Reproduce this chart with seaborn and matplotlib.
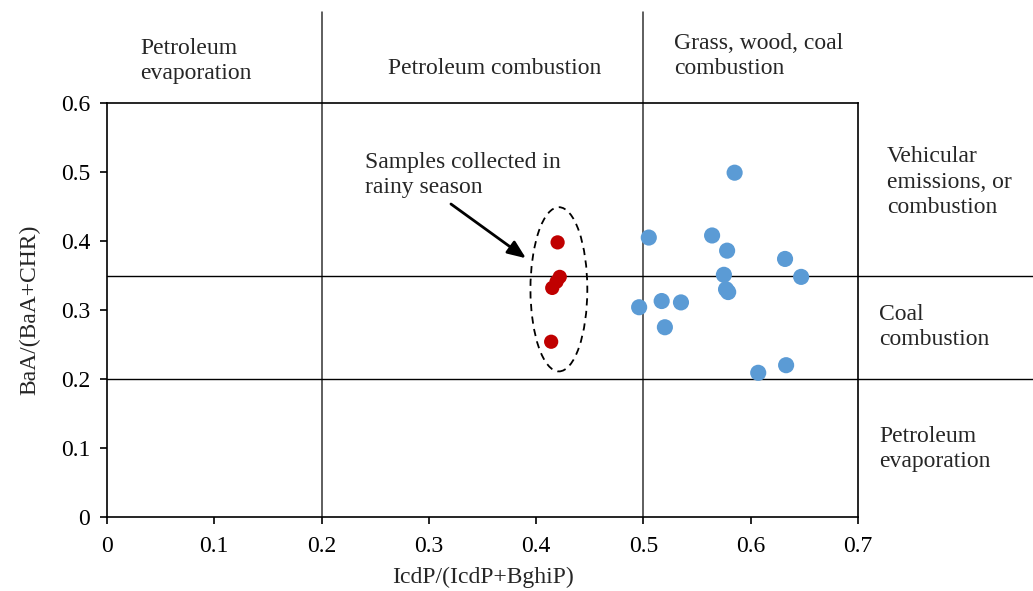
import matplotlib
matplotlib.use("Agg")
import matplotlib.pyplot as plt
import seaborn as sns
import pandas as pd
from matplotlib.patches import Ellipse

# Data
blue_x = [0.585, 0.505, 0.564, 0.578, 0.632, 0.575, 0.647, 0.577, 0.579, 0.517, 0.535, 0.496, 0.520, 0.633, 0.607]
blue_y = [0.499, 0.405, 0.408, 0.386, 0.374, 0.351, 0.348, 0.330, 0.326, 0.313, 0.311, 0.304, 0.275, 0.220, 0.209]
red_x = [0.420, 0.422, 0.419, 0.415, 0.414]
red_y = [0.398, 0.348, 0.341, 0.332, 0.254]
x_ticks = [0, 0.1, 0.2, 0.3, 0.4, 0.5, 0.6, 0.7]
x_tick_labels = ["0", "0.1", "0.2", "0.3", "0.4", "0.5", "0.6", "0.7"]
y_ticks = [0, 0.1, 0.2, 0.3, 0.4, 0.5, 0.6]
y_tick_labels = ["0", "0.1", "0.2", "0.3", "0.4", "0.5", "0.6"]
x_thresholds = [0.2, 0.5]
y_thresholds = [0.35, 0.2]

sns.set_style("white")
plt.rcParams['font.family'] = ['Liberation Serif', 'DejaVu Serif']

FS = 17
LS = 1.28
W, H = 1033, 591
fig = plt.figure(figsize=(W / 100, H / 100), dpi=100)
ax = fig.add_axes([107 / W, 1 - 517 / H, (858 - 107) / W, (517 - 103) / H])

df_blue = pd.DataFrame({"x": blue_x, "y": blue_y})
df_red = pd.DataFrame({"x": red_x, "y": red_y})
sns.scatterplot(data=df_blue, x="x", y="y", ax=ax, color="#5B9BD5", s=135,
                edgecolor="none", zorder=3)
sns.scatterplot(data=df_red, x="x", y="y", ax=ax, color="#C00000", s=105,
                edgecolor="none", zorder=3)

ax.set_xlim(0, 0.7)
ax.set_ylim(0, 0.6)
ax.set_xticks(x_ticks)
ax.set_xticklabels(x_tick_labels)
ax.set_yticks(y_ticks)
ax.set_yticklabels(y_tick_labels)
ax.tick_params(axis="both", direction="out", length=5, width=1.2, labelsize=FS,
               colors="black", left=True, bottom=True)
ax.tick_params(axis="x", pad=9)
ax.tick_params(axis="y", pad=7)
ax.set_xlabel("IcdP/(IcdP+BghiP)", fontsize=FS, labelpad=7)
ax.set_ylabel("BaA/(BaA+CHR)", fontsize=FS, labelpad=15)
for sp in ax.spines.values():
    sp.set_visible(True)
    sp.set_color("black")
    sp.set_linewidth(1.2)

# Threshold lines extending beyond the axes
top_data = (517 - 12) / 690
right_data = (W - 107) / 1073
for xv in x_thresholds:
    ax.plot([xv, xv], [0, top_data], color="#333333", lw=1.1, clip_on=False, zorder=2)
for yv in y_thresholds:
    ax.plot([0, right_data], [yv, yv], color="black", lw=1.0, clip_on=False, zorder=2)

# Dashed ellipse around rainy-season samples
ell = Ellipse((0.4212, 0.330), width=0.053, height=0.238, fill=False,
              edgecolor="black", linestyle=(0, (4, 3)), lw=1.3, zorder=4)
ax.add_patch(ell)

# Arrow and annotation
ax.annotate("", xy=(0.3905, 0.375), xytext=(0.3206, 0.4536),
            arrowprops=dict(arrowstyle="-|>,head_length=1.1,head_width=0.45",
                            color="black", lw=2.0, shrinkA=0, shrinkB=0))
ax.text(0.2404, 0.4957, "Samples collected in\nrainy season", fontsize=FS,
        ha="left", va="center", linespacing=LS)

def ftext(px, py, s, ha="left"):
    fig.text(px / W, 1 - py / H, s, fontsize=FS, ha=ha, va="center", linespacing=LS)

ftext(140, 61, "Petroleum\nevaporation")
ftext(388, 68, "Petroleum combustion")
ftext(674, 56, "Grass, wood, coal\ncombustion")
ftext(887, 182, "Vehicular\nemissions, or\ncombustion")
ftext(879, 327, "Coal\ncombustion")
ftext(879, 449, "Petroleum\nevaporation")

fig.savefig("out.png", dpi=100)
